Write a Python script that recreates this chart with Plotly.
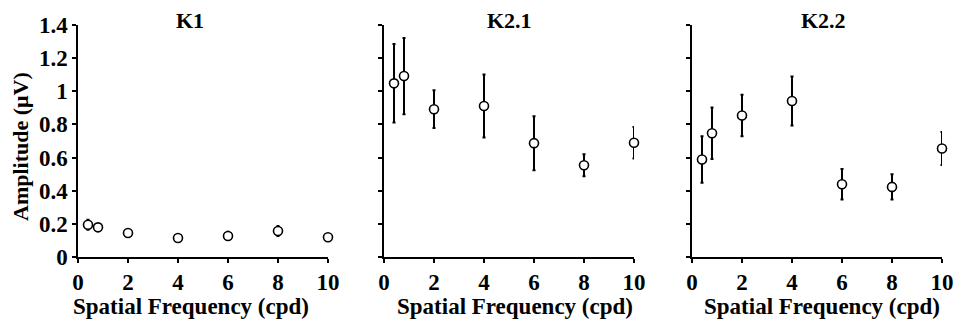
import plotly.graph_objects as go

# Spatial frequencies (cpd)
freq = [0.4, 0.8, 2, 4, 6, 8, 10]

# Mean amplitudes (µV) and error half-widths per kernel
k1_amp = [0.195, 0.179, 0.145, 0.115, 0.127, 0.157, 0.119]
k1_err = [0.03, 0.012, 0.01, 0.008, 0.025, 0.03, 0.01]

k21_amp = [1.048, 1.092, 0.892, 0.911, 0.687, 0.554, 0.689]
k21_err = [0.237, 0.23, 0.114, 0.19, 0.163, 0.066, 0.095]

k22_amp = [0.588, 0.747, 0.854, 0.941, 0.439, 0.423, 0.655]
k22_err = [0.14, 0.155, 0.125, 0.148, 0.092, 0.076, 0.1]

panel_titles = ["K1", "K2.1", "K2.2"]
x_title = "Spatial Frequency (cpd)"
y_title = "Amplitude (μV)"
x_ticks = [0, 2, 4, 6, 8, 10]
y_ticks = [0, 0.2, 0.4, 0.6, 0.8, 1, 1.2, 1.4]

W, H = 958, 324
FONT = "Liberation Serif"

series = [(k1_amp, k1_err), (k21_amp, k21_err), (k22_amp, k22_err)]
# horizontal pixel extents of each panel's plotting area
panels_px = [(78, 328), (384, 634), (692, 942)]
title_cx = [190, 510, 823]
xlabel_cx = [191, 515, 822]
y_top_px, y_bot_px = 25, 257

fig = go.Figure()
layout = dict(
    width=W, height=H,
    margin=dict(l=0, r=0, t=0, b=0, autoexpand=False),
    paper_bgcolor="white", plot_bgcolor="white",
    showlegend=False,
    annotations=[],
)

ydom = [(H - y_bot_px) / H, (H - y_top_px) / H]
tick_font = dict(family=FONT, size=23, color="black", weight="bold")

for i, ((amp, err), (x0, x1)) in enumerate(zip(series, panels_px)):
    n = i + 1
    xa = "x" if n == 1 else f"x{n}"
    ya = "y" if n == 1 else f"y{n}"
    fig.add_trace(go.Scatter(
        x=freq, y=amp, xaxis=xa, yaxis=ya,
        mode="markers",
        marker=dict(symbol="circle", size=9, color="white",
                    line=dict(color="black", width=1.6)),
        error_y=dict(type="data", array=err, visible=True,
                     color="black", thickness=2, width=1.5),
        cliponaxis=False,
    ))
    xkey = "xaxis" if n == 1 else f"xaxis{n}"
    ykey = "yaxis" if n == 1 else f"yaxis{n}"
    layout[xkey] = dict(
        domain=[x0 / W, x1 / W], anchor=ya, range=[0, 10],
        tickvals=x_ticks, ticks="outside", ticklen=4, tickwidth=1.5,
        tickcolor="black", showline=True, linecolor="black", linewidth=1.5,
        showgrid=False, zeroline=False, automargin=False,
        tickfont=tick_font,
    )
    layout[ykey] = dict(
        domain=ydom, anchor=xa, range=[0, 1.4],
        tickvals=y_ticks, ticktext=[f"{v:g}" for v in y_ticks],
        showticklabels=(n == 1),
        ticks="outside", ticklen=4, tickwidth=1.5, tickcolor="black",
        showline=True, linecolor="black", linewidth=1.5,
        showgrid=False, zeroline=False, automargin=False,
        tickfont=tick_font,
    )
    layout["annotations"].append(dict(
        text=f"<b>{panel_titles[i]}</b>", x=title_cx[i] / W, y=(H - 21) / H,
        xref="paper", yref="paper", xanchor="center", yanchor="middle",
        showarrow=False, font=dict(family=FONT, size=22, color="black"),
    ))
    layout["annotations"].append(dict(
        text=f"<b>{x_title}</b>", x=xlabel_cx[i] / W, y=(H - 306) / H,
        xref="paper", yref="paper", xanchor="center", yanchor="middle",
        showarrow=False, font=dict(family=FONT, size=23, color="black"),
    ))

layout["annotations"].append(dict(
    text=f"<b>{y_title}</b>", x=20 / W, y=(H - 147) / H,
    xref="paper", yref="paper", xanchor="center", yanchor="middle",
    textangle=-90, showarrow=False,
    font=dict(family=FONT, size=22, color="black"),
))

fig.update_layout(**layout)
fig.write_html("out.html")
